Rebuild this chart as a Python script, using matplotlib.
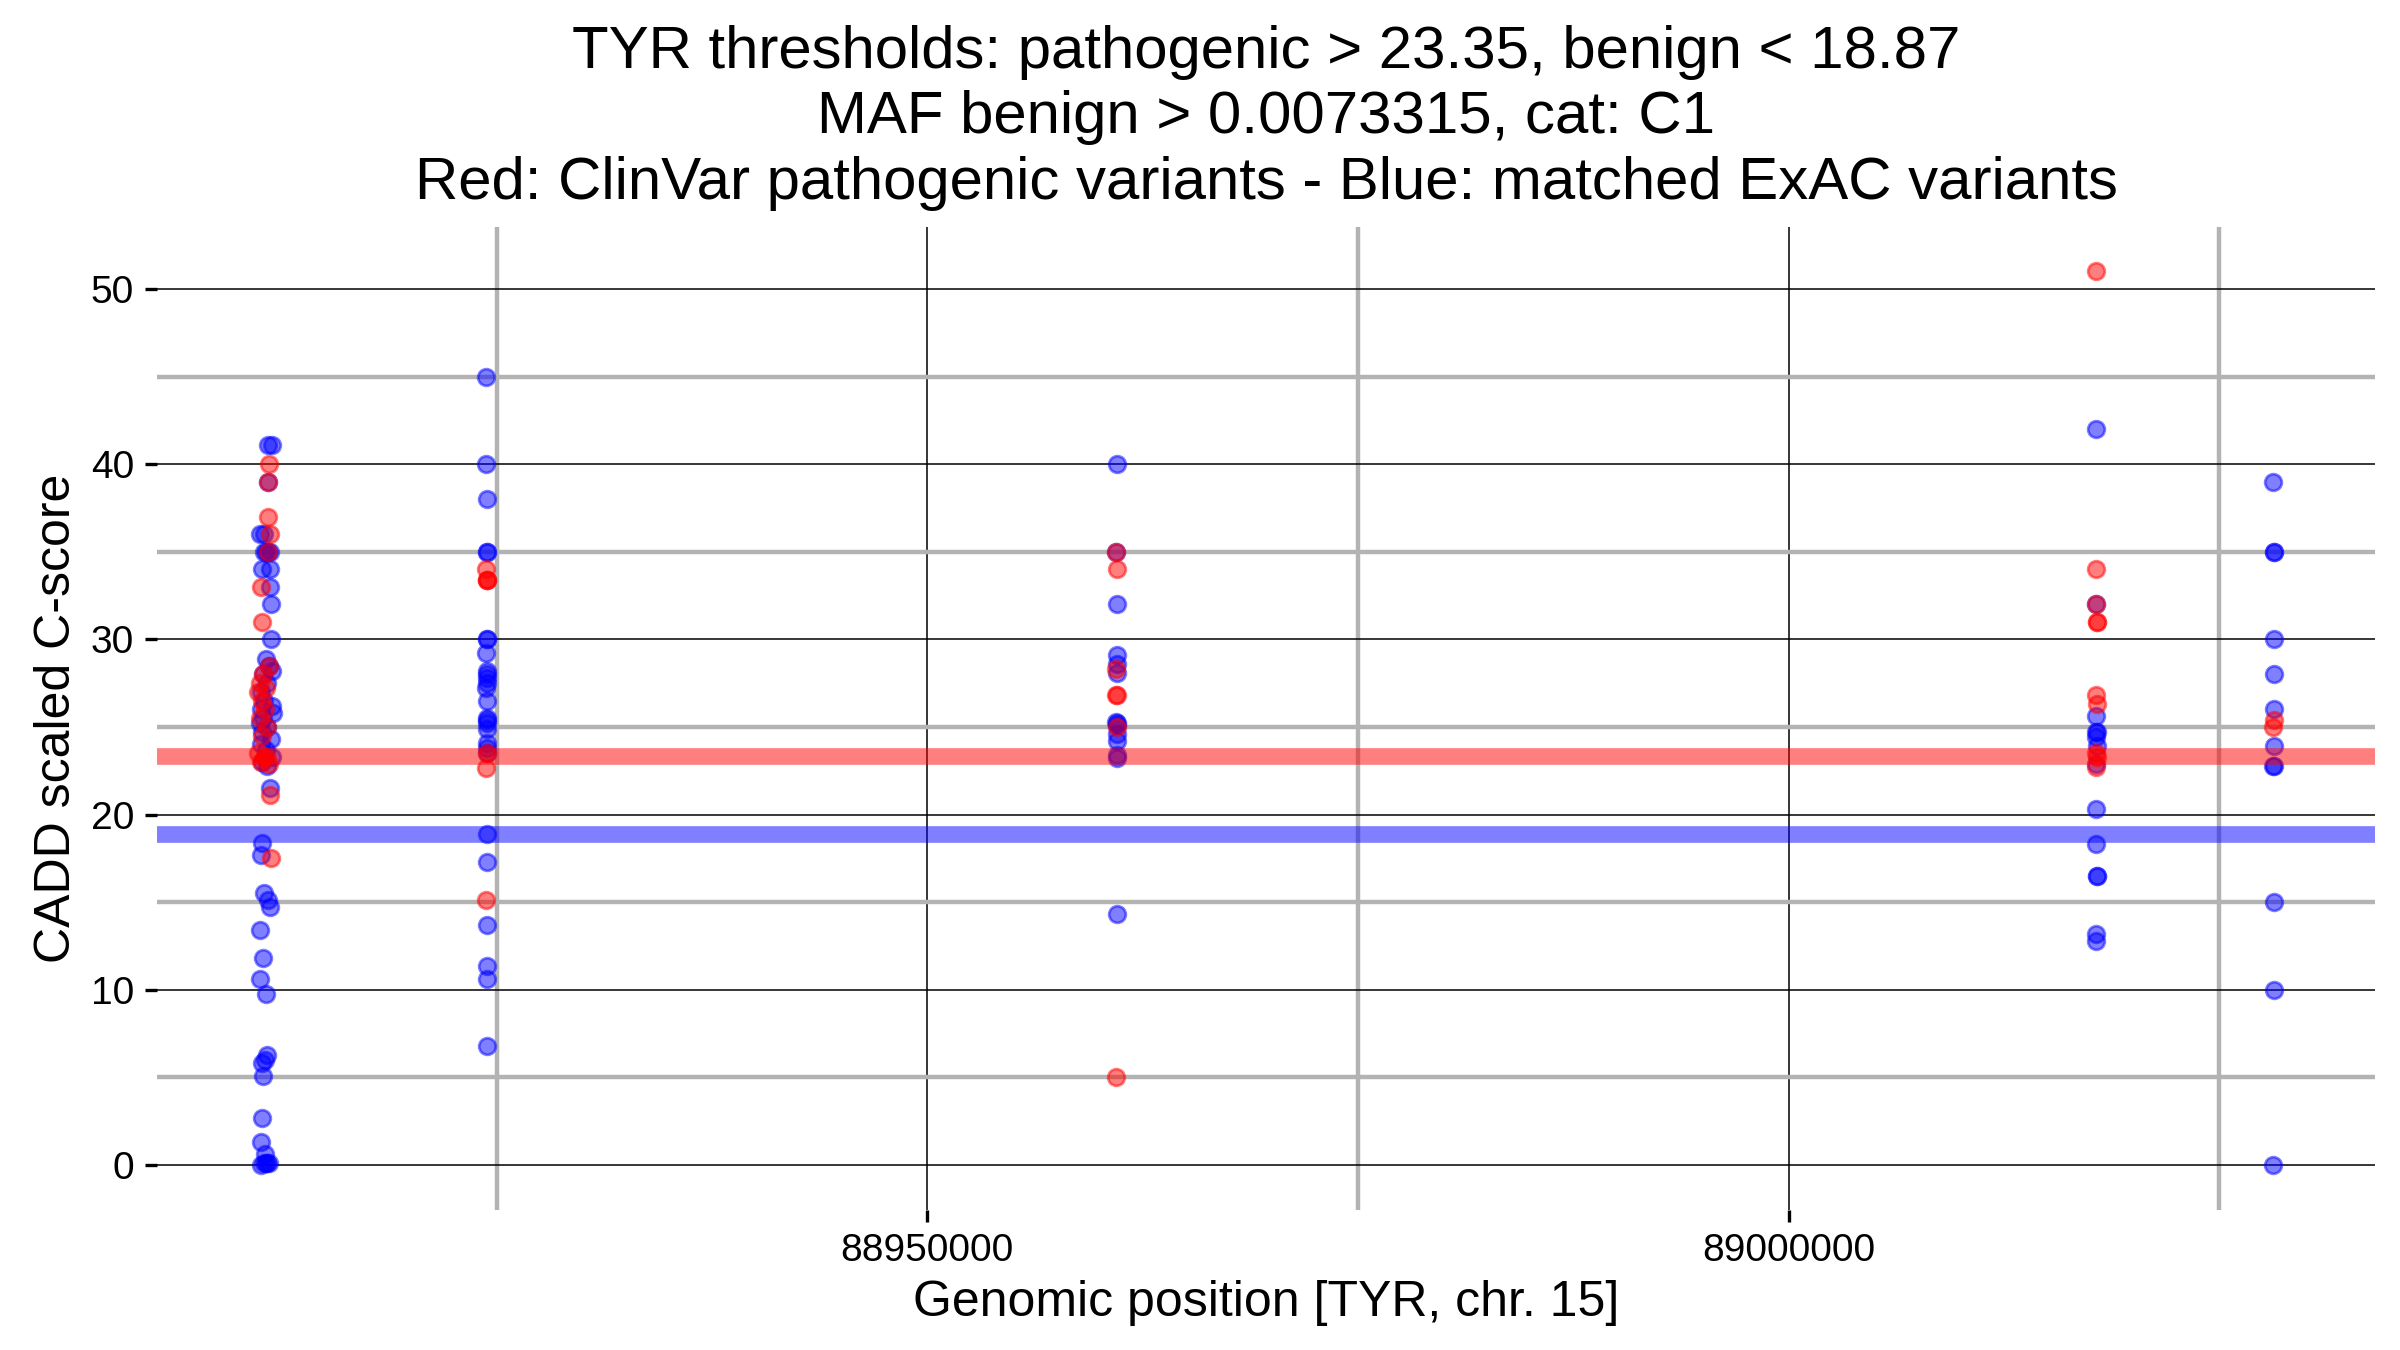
import matplotlib
matplotlib.use("Agg")
import matplotlib.pyplot as plt
from matplotlib.ticker import FixedLocator

plt.rcParams['font.family'] = ['Liberation Sans', 'DejaVu Sans']

gene = "TYR"
chrom = "15"
thr_path = 23.35
thr_benign = 18.87
maf = 0.0073315
cat = "C1"

# ClinVar pathogenic variants (red)
path_pos = [
    88911800, 88911740, 88911720, 88911850, 88911720, 88911330, 88911380,
    88911800, 88911450, 88911250, 88911600, 88911150, 88911400, 88911550,
    88911250, 88911700, 88911400, 88911150, 88911600, 88911300, 88911800,
    88911500, 88911850, 88911900,
    88924400, 88924420, 88924440, 88924460, 88924420, 88924400, 88924410,
    88960960, 88960990, 88960980, 88960970, 88961000, 88960990, 88960950,
    89017850, 89017850, 89017830, 89017870, 89017880, 89017860, 89017870,
    89017840, 89017880, 89017860,
    89028150, 89028140,
]
path_score = [
    40, 39, 37, 36, 35, 33, 31,
    28.5, 28.0, 27.5, 27.2, 27.0, 26.5, 26.0,
    25.5, 25.0, 24.5, 23.5, 23.3, 23.0, 22.9,
    23.2, 21.1, 17.5,
    34.0, 33.4, 33.4, 33.4, 23.5, 22.66, 15.1,
    35.0, 34.0, 28.3, 26.8, 26.8, 25.0, 5.0,
    51.0, 34.0, 32.0, 31.0, 31.0, 26.8, 26.3,
    23.5, 23.3, 22.7,
    25.4, 25.0,
]

# matched ExAC variants (blue)
exac_pos = [
    88911740, 88911970, 88911740, 88911270, 88911500, 88911500, 88911620,
    88911740, 88911860, 88911400, 88911850, 88911850, 88911900, 88911920,
    88911600, 88911800, 88911950, 88911450, 88911700, 88911350, 88911500,
    88911950, 88911300, 88912000, 88911450, 88911250, 88911650, 88911400,
    88911900, 88911300, 88911600, 88911950, 88911400, 88911700, 88911850,
    88911400, 88911350, 88911500, 88911750, 88911850, 88911250, 88911450,
    88911250, 88911600, 88911650, 88911550, 88911400, 88911450, 88911400,
    88911300, 88911550, 88911500, 88911620, 88911700, 88911780, 88911350,
    88924380, 88924380, 88924440, 88924420, 88924440, 88924430, 88924450,
    88924390, 88924460, 88924420, 88924440, 88924470, 88924410, 88924440,
    88924460, 88924430, 88924450, 88924420, 88924470, 88924440, 88924420,
    88924460, 88924420, 88924450, 88924430, 88924460, 88924430,
    88961000, 88960980, 88961000, 88961010, 88961000, 88960990, 88960980,
    88961000, 88961020, 88960990, 88961010, 88961000, 88961010, 88960990,
    89017840, 89017820, 89017860, 89017850, 89017880, 89017860, 89017870,
    89017850, 89017860, 89017850, 89017870, 89017880, 89017850, 89017860,
    89028130, 89028150, 89028170, 89028150, 89028160, 89028150, 89028160,
    89028140, 89028170, 89028150, 89028150, 89028140,
]
exac_score = [
    41.1, 41.1, 39, 36, 36, 35, 35,
    35, 35, 34, 34, 33, 32, 30,
    28.9, 28.5, 28.2, 28.0, 27.5, 27.0, 26.5,
    26.2, 26.0, 25.8, 25.5, 25.2, 25.0, 24.7,
    24.3, 24.0, 23.7, 23.3, 23.0, 22.8, 21.5,
    18.4, 17.7, 15.5, 15.1, 14.7, 13.4, 11.8,
    10.6, 9.76, 6.28, 6.0, 5.8, 5.1, 2.66,
    1.33, 0.6, 0.1, 0.1, 0.1, 0.1, 0.0,
    45, 40, 38, 35, 35, 30, 30,
    29.2, 28.2, 28.0, 27.8, 27.5, 27.2, 26.5,
    25.5, 25.4, 25.2, 24.9, 24.1, 23.8, 23.5,
    18.9, 17.3, 13.7, 11.36, 10.6, 6.79,
    40, 35, 32, 29.1, 28.6, 28.1, 25.3,
    25.2, 25.1, 24.6, 24.2, 23.4, 23.2, 14.3,
    42, 32, 25.6, 24.7, 24.7, 24.4, 23.9,
    22.9, 20.3, 18.3, 16.5, 16.5, 13.2, 12.8,
    39, 35, 35, 30, 28, 26, 23.9,
    22.8, 22.8, 15, 10, 0,
]

x_major = [88950000, 89000000]
x_minor = [88925000, 88975000, 89025000]
y_major = [0, 10, 20, 30, 40, 50]
y_minor = [5, 15, 25, 35, 45]

fig = plt.figure(figsize=(12, 6.75), dpi=200)
ax = fig.add_axes([0.0655, 0.104, 0.924, 0.728])

ax.scatter(exac_pos, exac_score, s=36, color='blue', alpha=0.5, linewidths=1, zorder=3)
ax.scatter(path_pos, path_score, s=36, color='red', alpha=0.5, linewidths=1, zorder=3)
ax.axhline(thr_path, color='red', alpha=0.5, lw=6, zorder=4)
ax.axhline(thr_benign, color='blue', alpha=0.5, lw=6, zorder=4)

ax.xaxis.set_major_locator(FixedLocator(x_major))
ax.xaxis.set_minor_locator(FixedLocator(x_minor))
ax.yaxis.set_major_locator(FixedLocator(y_major))
ax.yaxis.set_minor_locator(FixedLocator(y_minor))
ax.ticklabel_format(axis='x', style='plain', useOffset=False)

ax.grid(which='major', color='black', lw=0.55, zorder=0)
ax.grid(which='minor', color='#b3b3b3', lw=1.6, zorder=0)
ax.set_axisbelow(True)
for sp in ax.spines.values():
    sp.set_visible(False)
ax.tick_params(which='major', length=4.3, width=1.2, labelsize=14, pad=4)
ax.tick_params(which='minor', length=0)

ax.set_xlabel(f"Genomic position [{gene}, chr. {chrom}]", fontsize=18)
ax.set_ylabel("CADD scaled C-score", fontsize=18)
ax.set_title(f"{gene} thresholds: pathogenic > {thr_path}, benign < {thr_benign}\n"
             f"MAF benign > {maf}, cat: {cat}\n"
             "Red: ClinVar pathogenic variants - Blue: matched ExAC variants",
             fontsize=21.6, linespacing=1.25, pad=10)

fig.savefig("out.png", dpi=200)
